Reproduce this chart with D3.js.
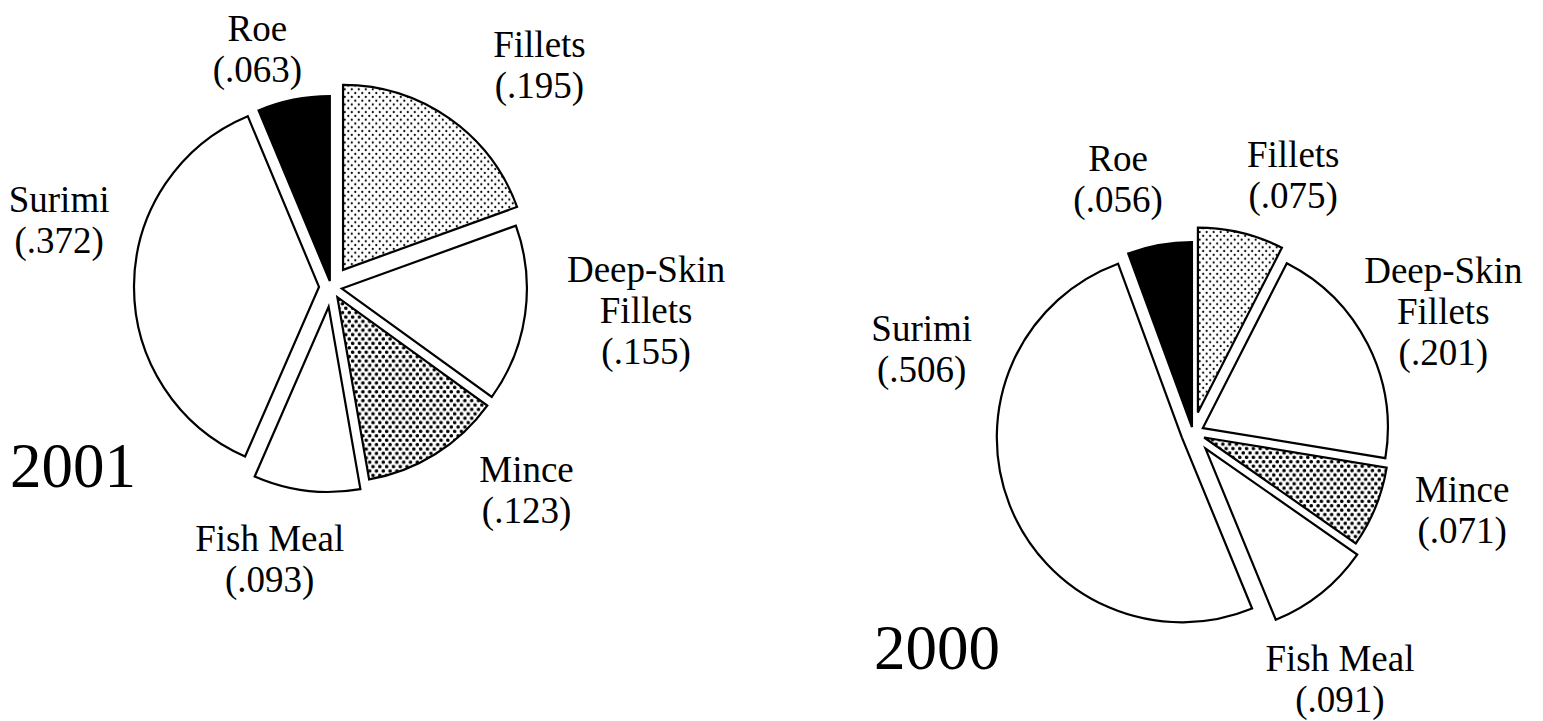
<!DOCTYPE html>
<html>
<head>
<meta charset="utf-8">
<script src="https://cdn.jsdelivr.net/npm/d3@7/dist/d3.min.js"></script>
<style>
  body { margin: 0; background: #fff; }
  svg { display: block; }
</style>
</head>
<body>
<svg id="chart" width="1543" height="721"></svg>
<script>
// product shares, clockwise from 12 o'clock
var categories = ["Fillets", "Deep-Skin Fillets", "Mince", "Fish Meal", "Surimi", "Roe"];
var nameLines  = [["Fillets"], ["Deep-Skin", "Fillets"], ["Mince"], ["Fish Meal"], ["Surimi"], ["Roe"]];
var shares2001 = [0.195, 0.155, 0.123, 0.093, 0.372, 0.063];
var shares2000 = [0.075, 0.201, 0.071, 0.091, 0.506, 0.056];
var shareText2001 = ["(.195)", "(.155)", "(.123)", "(.093)", "(.372)", "(.063)"];
var shareText2000 = ["(.075)", "(.201)", "(.071)", "(.091)", "(.506)", "(.056)"];

// look of each slice
var fills   = ["url(#dotsLight)", "#fff", "url(#dotsHeavy)", "#fff", "#fff", "#000"];
var explode = [21, 11, 12, 20, 12, 6];

var charts = [
  { year: "2001", shares: shares2001, text: shareText2001,
    cx: 331, cy: 287, r: 185, yearX: 10, yearY: 487,
    // label block centre as [angle deg, distance] from pie centre
    labelAt: [[43.3, 304], [94.4, 316], [136.1, 282], [192.7, 279], [283.8, 280], [342.8, 249]] },
  { year: "2000", shares: shares2000, text: shareText2000,
    cx: 1193, cy: 433, r: 185, yearX: 874, yearY: 669,
    labelAt: [[21.3, 276], [64.2, 278], [106.0, 280], [149.2, 287], [287.2, 284], [343.5, 264]] }
];

var svg = d3.select("#chart");
var font = "'Liberation Serif', 'Times New Roman', serif";
var lineH = 41;

// dot screens
var defs = svg.append("defs");
var light = defs.append("pattern")
    .attr("id", "dotsLight")
    .attr("patternUnits", "userSpaceOnUse")
    .attr("width", 7).attr("height", 7.6);
light.append("rect").attr("width", 7).attr("height", 7.6).attr("fill", "#fff");
light.append("circle").attr("cx", 1.75).attr("cy", 1.9).attr("r", 1.1).attr("fill", "#000");
light.append("circle").attr("cx", 5.25).attr("cy", 5.7).attr("r", 1.1).attr("fill", "#000");

var heavy = defs.append("pattern")
    .attr("id", "dotsHeavy")
    .attr("patternUnits", "userSpaceOnUse")
    .attr("width", 6.8).attr("height", 8.8);
heavy.append("rect").attr("width", 6.8).attr("height", 8.8).attr("fill", "#fff");
heavy.append("circle").attr("cx", 1.7).attr("cy", 2.2).attr("r", 1.8).attr("fill", "#000");
heavy.append("circle").attr("cx", 5.1).attr("cy", 6.6).attr("r", 1.8).attr("fill", "#000");

var pie = d3.pie().sort(null).value(function(d) { return d; });

charts.forEach(function(c) {
  var g = svg.append("g")
      .attr("transform", "translate(" + c.cx + "," + c.cy + ")");

  var arc = d3.arc().innerRadius(0).outerRadius(c.r);
  var arcs = pie(c.shares);

  // exploded slices
  g.selectAll("path.slice")
    .data(arcs)
    .enter()
    .append("path")
      .attr("class", "slice")
      .attr("d", arc)
      .attr("fill", function(d, i) { return fills[i]; })
      .attr("stroke", "#000")
      .attr("stroke-width", 2.2)
      .attr("stroke-linejoin", "miter")
      .attr("transform", function(d, i) {
        var mid = (d.startAngle + d.endAngle) / 2;
        return "translate(" + (explode[i] * Math.sin(mid)) + "," + (-explode[i] * Math.cos(mid)) + ")";
      });

  // labels
  arcs.forEach(function(d, i) {
    var a = c.labelAt[i][0] * Math.PI / 180,
        dist = c.labelAt[i][1];
    var lx = dist * Math.sin(a),
        ly = -dist * Math.cos(a);
    var lines = nameLines[i].concat([c.text[i]]);
    var t = g.append("text")
        .attr("text-anchor", "middle")
        .style("font-family", font)
        .style("font-size", "37px")
        .attr("fill", "#000");
    lines.forEach(function(s, k) {
      t.append("tspan")
        .attr("x", lx)
        .attr("y", ly + (k - (lines.length - 1) / 2) * lineH + 12)
        .text(s);
    });
  });

  // year
  svg.append("text")
    .attr("x", c.yearX)
    .attr("y", c.yearY)
    .style("font-family", font)
    .style("font-size", "63px")
    .attr("fill", "#000")
    .text(c.year);
});
</script>
</body>
</html>
